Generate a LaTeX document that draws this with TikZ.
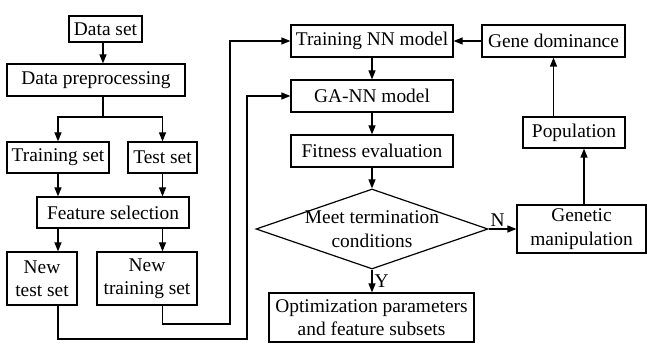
\documentclass[tikz,border=0pt]{standalone}
\usepackage{fontspec}
\setmainfont{Liberation Serif}
\newfontfamily\tnrfont{Liberation Serif}
\usetikzlibrary{arrows.meta,shapes.geometric}
\begin{document}
\begin{tikzpicture}[x=1pt,y=-1pt,
  txt/.style={font=\tnrfont\fontsize{19.4pt}{23.5pt}\selectfont},
  box/.style={txt,draw,line width=1.2pt,inner sep=0pt,align=center},
  conn/.style={line width=1.2pt},
  arr/.style={conn,-{Triangle[length=9pt,width=7pt]}},
  lbl/.style={txt,inner sep=0pt}]
\useasboundingbox (0,0) rectangle (647,344);
% left column
\node[box,minimum width=73pt,minimum height=26pt] (dataset) at (105.5,29) {Data set};
\node[box,minimum width=178pt,minimum height=32pt] (pre) at (96,80) {Data preprocessing};
\node[box,minimum width=102pt,minimum height=31pt] (trainset) at (58,157.5) {Training set};
\node[box,minimum width=69pt,minimum height=31pt] (testset) at (162.5,157.5) {Test set};
\node[box,minimum width=152pt,minimum height=31pt] (feat) at (113,212.5) {Feature selection};
\node[box,minimum width=70pt,minimum height=53pt] (newtest) at (42,278.5) {New\\test set};
\node[box,minimum width=100pt,minimum height=53pt] (newtrain) at (147,278.5) {New\\training set};
% middle column
\node[box,minimum width=162pt,minimum height=32pt] (trainnn) at (372,41) {Training NN model};
\node[box,minimum width=162pt,minimum height=32pt] (gann) at (372,96) {GA-NN model};
\node[box,minimum width=162pt,minimum height=32pt] (fit) at (372,151) {Fitness evaluation};
\node[draw,diamond,line width=1.2pt,minimum width=232pt,minimum height=80pt,inner sep=0pt,
  label={[lbl,align=center]center:Meet termination\\conditions}] (cond) at (372,229) {};
\node[box,minimum width=205pt,minimum height=49pt] (opt) at (371.5,317.5) {Optimization parameters\\and feature subsets};
% right column
\node[box,minimum width=143pt,minimum height=32pt] (gene) at (553.5,41) {Gene dominance};
\node[box,minimum width=102pt,minimum height=31pt] (pop) at (574,132.5) {Population};
\node[box,minimum width=129pt,minimum height=48pt] (genman) at (581.5,229) {Genetic\\manipulation};
% coordinates for routed lines
\coordinate (br) at (103,117);
\coordinate (c1) at (247,339);
\coordinate (c2) at (230,324);
% connectors
\draw[arr] ([xshift=-2.5pt]dataset.south) -- ([xshift=-2.5pt]dataset.south |- pre.north);
\draw[conn] (pre.south -| br) -- (br);
\draw[arr] (br) -| (trainset.north);
\draw[arr] (br) -| (testset.north);
\draw[arr] (trainset.south) -- (trainset.south |- feat.north);
\draw[arr] (testset.south) -- (testset.south |- feat.north);
\draw[arr] (trainset.south |- feat.south) -- (trainset.south |- newtest.north);
\draw[arr] (testset.south |- feat.south) -- (testset.south |- newtrain.north);
\draw[arr] (trainset.south |- newtest.south) |- (c1) |- (gann.west);
\draw[arr] (testset.south |- newtrain.south) |- (c2) |- (trainnn.west);
\draw[arr] (trainnn) -- (gann);
\draw[arr] (gann) -- (fit);
\draw[arr] (fit.south) -- (cond.north);
\draw[arr] (cond.south) -- (cond.south |- opt.north) node[midway,right=2pt,lbl] {Y};
\draw[arr] (cond.east) -- (genman.west) node[midway,above=2pt,lbl,xshift=-5pt] {N};
\draw[arr] ([xshift=2.5pt]genman.north) -- ([xshift=2.5pt]genman.north |- pop.south);
\draw[arr] (gene.south |- pop.north) -- (gene.south);
\draw[arr] (gene) -- (trainnn);
\end{tikzpicture}
\end{document}
